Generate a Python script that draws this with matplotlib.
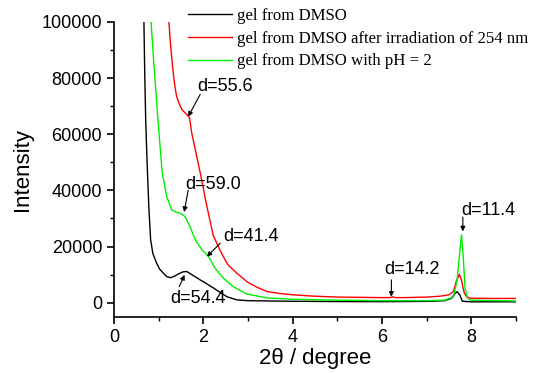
import matplotlib
matplotlib.use("Agg")
import matplotlib.pyplot as plt
from matplotlib.ticker import MultipleLocator

# gel from DMSO (black)
x_dmso = [0.67, 0.69, 0.71, 0.73, 0.76, 0.78, 0.82, 0.87, 0.95, 1.02, 1.10, 1.18, 1.26, 1.35,
          1.45, 1.55, 1.63, 1.72, 1.82, 1.93, 2.05, 2.23, 2.38, 2.53, 2.75, 3.00, 4.00, 5.00,
          6.00, 7.00, 7.40, 7.55, 7.62, 7.68, 7.74, 7.80, 8.00, 9.00]
y_dmso = [100000, 80000, 65000, 55000, 42000, 34000, 22400, 17500, 14200, 12000, 10600, 9300, 8900, 9400,
          10300, 11000, 11100, 10200, 9200, 8100, 7000, 5200, 3600, 2100, 1000, 700, 500, 400,
          350, 450, 700, 1500, 3000, 3900, 2800, 500, 300, 300]

# after irradiation of 254 nm (red)
x_irr = [1.23, 1.26, 1.31, 1.36, 1.40, 1.46, 1.52, 1.63, 1.69, 1.74, 1.78, 1.82, 1.93, 2.08, 2.22, 2.32,
         2.41, 2.55, 2.75, 3.00, 3.20, 3.42, 3.70, 4.00, 4.50, 5.00, 5.50, 6.00, 6.18, 6.24,
         6.30, 6.50, 7.00, 7.30, 7.50, 7.60, 7.66, 7.73, 7.78, 7.84, 7.90, 8.00, 8.50, 9.00]
y_irr = [100000, 93000, 84300, 77500, 73600, 70800, 68800, 67000, 65900, 60500, 57500, 54500, 46300, 34300, 24000, 20500,
         17500, 13500, 10500, 7200, 5500, 4000, 3300, 2800, 2300, 2000, 1900, 1800, 1800, 2100,
         1800, 1800, 2000, 2300, 2800, 4000, 7500, 10100, 8000, 3500, 2000, 1600, 1500, 1500]

# with pH = 2 (green)
x_ph = [0.83, 0.88, 0.93, 0.98, 1.03, 1.08, 1.18, 1.29, 1.40, 1.48, 1.59, 1.70, 1.82, 1.97,
        2.11, 2.26, 2.45, 2.67, 2.97, 3.42, 4.00, 5.00, 6.00, 7.00, 7.40, 7.60, 7.68, 7.74,
        7.78, 7.82, 7.86, 7.92, 8.00, 9.00]
y_ph = [100000, 88000, 77000, 66000, 56000, 46200, 37900, 33100, 32200, 31900, 30700, 27100, 22400, 18800,
        16700, 12300, 8700, 5700, 3100, 1700, 1200, 900, 700, 700, 900, 2000, 8000, 18000,
        24200, 16000, 5000, 1500, 900, 600]

labels = ["gel from DMSO",
          "gel from DMSO after irradiation of 254 nm",
          "gel from DMSO with pH = 2"]
colors = ["black", "red", "#00ee00"]

# annotations: text, text position (left, center), arrow tail, arrow head
notes = [
    ("d=55.6", (1.86, 76900), (1.93, 74200), (1.66, 66300)),
    ("d=59.0", (1.59, 42000), (1.66, 40000), (1.57, 32300)),
    ("d=41.4", (2.45, 23600), (2.38, 21200), (2.08, 16400)),
    ("d=54.4", (1.26, 1600), (1.46, 5700), (1.58, 9900)),
    ("d=14.2", (6.04, 11900), (6.21, 8100), (6.21, 2100)),
    ("d=11.4", (7.77, 32900), (7.81, 30500), (7.81, 25400)),
]

plt.rcParams['font.family'] = ['Liberation Sans', 'DejaVu Sans']

fig = plt.figure(figsize=(5.39, 3.73), dpi=100)
ax = fig.add_axes([114 / 539, 1 - 316.7 / 373, 402 / 539, 294.7 / 373])

lines = []
for xs, ys, c, lab in zip([x_dmso, x_irr, x_ph], [y_dmso, y_irr, y_ph], colors, labels):
    ln, = ax.plot(xs, ys, color=c, lw=1.0, label=lab)
    lines.append(ln)

for txt, tpos, tail, head in notes:
    ax.text(tpos[0], tpos[1], txt, ha='left', va='center', fontsize=13)
    ax.annotate('', xy=head, xytext=tail,
                arrowprops=dict(arrowstyle='-|>', color='k', lw=0.8,
                                mutation_scale=7, shrinkA=0, shrinkB=0))

ax.set_xlim(0, 9)
ax.set_ylim(-5000, 100000)
ax.spines['top'].set_visible(False)
ax.spines['right'].set_visible(False)
for s in ['left', 'bottom']:
    ax.spines[s].set_linewidth(1.2)
ax.xaxis.set_major_locator(MultipleLocator(2))
ax.xaxis.set_minor_locator(MultipleLocator(1))
ax.yaxis.set_major_locator(MultipleLocator(20000))
ax.yaxis.set_minor_locator(MultipleLocator(10000))
ax.tick_params(which='major', direction='out', length=5, width=1.2, labelsize=13)
ax.tick_params(which='minor', direction='out', length=3, width=1.0)

ax.set_xlabel("2θ / degree", fontsize=16, labelpad=2)
ax.set_ylabel("Intensity", fontsize=16, labelpad=6)

ax.legend(handles=lines, loc='upper left', frameon=False,
          bbox_to_anchor=(188 / 539, 1 - 8 / 373), bbox_transform=fig.transFigure,
          borderpad=0, borderaxespad=0, handlelength=2.6, handletextpad=0.3,
          labelspacing=0.4, prop={'family': 'Liberation Serif', 'size': 12.1})

fig.savefig("out.png", dpi=100)
